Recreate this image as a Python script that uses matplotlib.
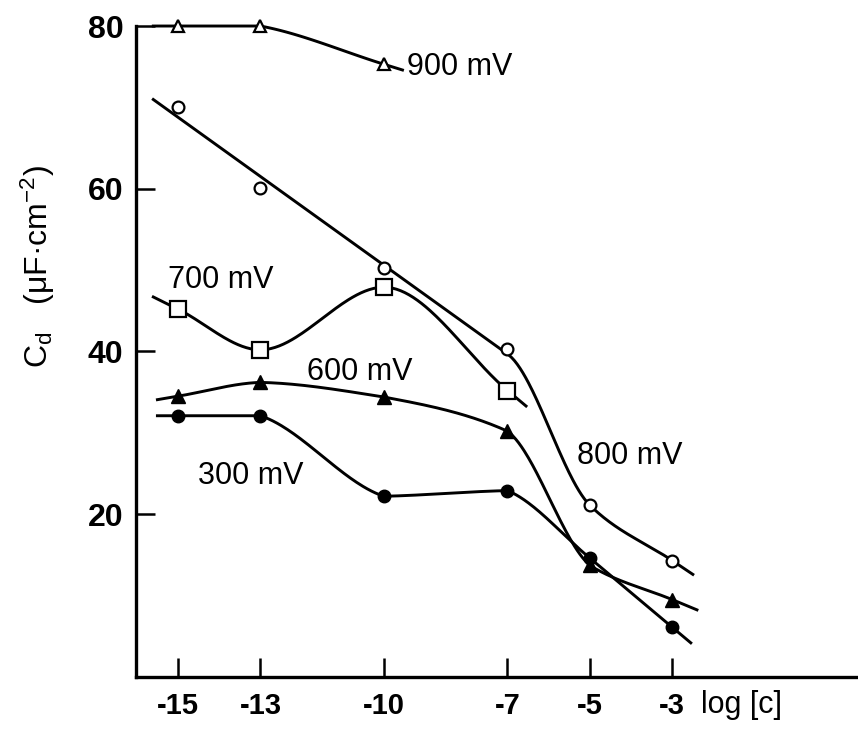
import numpy as np
import matplotlib
matplotlib.use("Agg")
import matplotlib.pyplot as plt
import matplotlib.transforms as mtransforms

plt.rcParams['font.family'] = ['Liberation Sans', 'DejaVu Sans']
plt.rcParams['axes.unicode_minus'] = False
plt.rcParams['mathtext.fontset'] = 'custom'
plt.rcParams['mathtext.rm'] = 'Liberation Sans'
plt.rcParams['mathtext.it'] = 'Liberation Sans:italic'

# ---------------------
# DATA  (log[c] vs C_d in uF/cm^2)
# ---------------------
logc_900 = [-15, -13, -10]
cd_900 = [80.0, 80.0, 75.3]

logc_800 = [-15, -13, -10, -7, -5, -3]
cd_800 = [70.0, 60.1, 50.2, 40.3, 21.1, 14.3]

logc_700 = [-15, -13, -10, -7]
cd_700 = [45.2, 40.2, 47.9, 35.2]

logc_600 = [-15, -13, -10, -7, -5, -3]
cd_600 = [34.5, 36.2, 34.4, 30.2, 13.7, 9.5]

logc_300 = [-15, -13, -10, -7, -5, -3]
cd_300 = [32.1, 32.1, 22.2, 22.9, 14.6, 6.1]

xticks = [-15, -13, -10, -7, -5, -3]
yticks = [20, 40, 60, 80]


# ---------------------
# smooth curve helpers (monotone cubic hermite, straight tails at the ends)
# ---------------------
def pchip_slopes(x, y):
    x = np.asarray(x, float)
    y = np.asarray(y, float)
    h = np.diff(x)
    d = np.diff(y) / h
    m = np.zeros_like(y)
    for i in range(1, len(x) - 1):
        if d[i - 1] * d[i] <= 0:
            m[i] = 0.0
        else:
            w1 = 2 * h[i] + h[i - 1]
            w2 = h[i] + 2 * h[i - 1]
            m[i] = (w1 + w2) / (w1 / d[i - 1] + w2 / d[i])
    m[0] = d[0]
    m[-1] = d[-1]
    return m


def hermite(x, y, m, smooth=1.0, n=60):
    # smooth=1 -> fully smooth, smooth=0 -> straight segments
    d = np.diff(y) / np.diff(x)
    xs, ys = [], []
    for i in range(len(x) - 1):
        h = x[i + 1] - x[i]
        m0 = smooth * m[i] + (1 - smooth) * d[i]
        m1 = smooth * m[i + 1] + (1 - smooth) * d[i]
        t = np.linspace(0, 1, n)
        h00 = 2 * t**3 - 3 * t**2 + 1
        h10 = t**3 - 2 * t**2 + t
        h01 = -2 * t**3 + 3 * t**2
        h11 = t**3 - t**2
        xs.append(x[i] + t * h)
        ys.append(h00 * y[i] + h10 * h * m0 + h01 * y[i + 1] + h11 * h * m1)
    return np.concatenate(xs), np.concatenate(ys)


def curve(x, y, left, right, m=None, smooth=1.0):
    x = np.asarray(x, float)
    y = np.asarray(y, float)
    if m is None:
        m = pchip_slopes(x, y)
    cx, cy = hermite(x, y, m, smooth)
    lx = np.array([x[0] - left, x[0]])
    ly = y[0] - m[0] * np.array([left, 0])
    rx = np.array([x[-1], x[-1] + right])
    ry = y[-1] + m[-1] * np.array([0, right])
    return np.r_[lx, cx, rx], np.r_[ly, cy, ry]


fig = plt.figure(figsize=(8.58, 7.31), dpi=100)
ax = fig.add_axes([0.1585, 0.074, 0.8415, 0.8904])

lw = 2.1
mk = dict(color='black', linestyle='none', zorder=3, clip_on=False)

# 900 mV
cx, cy = curve(logc_900, cd_900, 0.6, 0.45, smooth=0.4)
ax.plot(cx, cy, color='black', lw=lw, clip_on=False)
ax.plot(logc_900, cd_900, marker='^', ms=9, mfc='white', mew=1.6, **mk)

# 800 mV: straight fit over the low-concentration points, then a bend
k, b = np.polyfit(logc_800[:4], cd_800[:4], 1)
lx = np.linspace(-15.6, logc_800[3], 20)
tx = [logc_800[3]] + logc_800[4:]
ty = [k * logc_800[3] + b] + cd_800[4:]
tm = pchip_slopes(tx, ty)
tm[0] = k
bx, by = curve(tx, ty, 0.0, 0.5, m=tm)
ax.plot(np.r_[lx, bx], np.r_[k * lx + b, by], color='black', lw=lw)
ax.plot(logc_800, cd_800, marker='o', ms=8.5, mfc='white', mew=1.6, **mk)

# 700 mV
cx, cy = curve(logc_700, cd_700, 0.6, 0.45)
ax.plot(cx, cy, color='black', lw=lw)
ax.plot(logc_700, cd_700, marker='s', ms=11, mfc='white', mew=1.6, **mk)

# 600 mV
cx, cy = curve(logc_600, cd_600, 0.5, 0.6, smooth=0.8)
ax.plot(cx, cy, color='black', lw=lw)
ax.plot(logc_600, cd_600, marker='^', ms=10, mfc='black', **mk)

# 300 mV
cx, cy = curve(logc_300, cd_300, 0.5, 0.45, smooth=0.5)
ax.plot(cx, cy, color='black', lw=lw)
ax.plot(logc_300, cd_300, marker='o', ms=9, mfc='black', **mk)

# curve labels
lab = dict(fontsize=22, va='center', ha='left')
ax.text(-9.44, 75.0, '900 mV', **lab)
ax.text(-15.24, 48.8, '700 mV', **lab)
ax.text(-11.87, 37.5, '600 mV', **lab)
ax.text(-14.51, 24.7, '300 mV', **lab)
ax.text(-5.31, 27.2, '800 mV', **lab)

# axes
ax.set_xlim(-16.02, 1.51)
ax.set_ylim(0, 80)
ax.set_xticks(xticks)
ax.set_yticks(yticks)
ax.set_xticklabels([str(v) for v in xticks], fontweight='bold')
ax.set_yticklabels([str(v) for v in yticks], fontweight='bold')
for s in ['top', 'right']:
    ax.spines[s].set_visible(False)
for s in ['left', 'bottom']:
    ax.spines[s].set_linewidth(2.4)
ax.tick_params(direction='in', length=14, width=1.8)
ax.tick_params(axis='x', pad=11, labelsize=21)
ax.tick_params(axis='y', pad=9, labelsize=23)

trans = mtransforms.blended_transform_factory(ax.transData, ax.transAxes)
ax.text(-2.3, -0.02, 'log [c]', transform=trans, fontsize=22,
        ha='left', va='top')

ax.set_ylabel(r'C$_\mathrm{d}$   (μF·cm$^{-2}$)', fontsize=23)
ax.yaxis.set_label_coords(-0.11, 0.63)

fig.savefig('out.png', dpi=100)
